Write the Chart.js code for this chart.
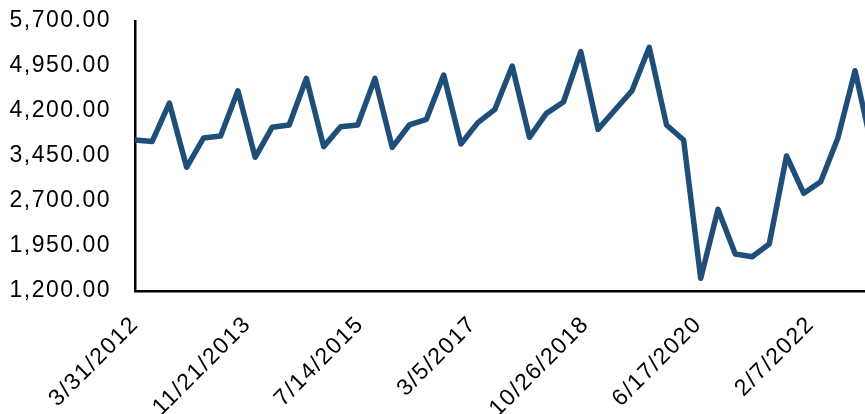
<!DOCTYPE html>
<html>
<head>
<meta charset="utf-8">
<script src="https://cdn.jsdelivr.net/npm/chart.js@4/dist/chart.umd.min.js"></script>
<style>
  html, body { margin: 0; padding: 0; background: #ffffff; }
  canvas { display: block; }
</style>
</head>
<body>
<canvas id="chart" width="865" height="414"></canvas>
<script>
// Quarter-end dates of the series
const quarterEnds = [
  "3/31/2012", "6/30/2012", "9/30/2012", "12/31/2012",
  "3/31/2013", "6/30/2013", "9/30/2013", "12/31/2013",
  "3/31/2014", "6/30/2014", "9/30/2014", "12/31/2014",
  "3/31/2015", "6/30/2015", "9/30/2015", "12/31/2015",
  "3/31/2016", "6/30/2016", "9/30/2016", "12/31/2016",
  "3/31/2017", "6/30/2017", "9/30/2017", "12/31/2017",
  "3/31/2018", "6/30/2018", "9/30/2018", "12/31/2018",
  "3/31/2019", "6/30/2019", "9/30/2019", "12/31/2019",
  "3/31/2020", "6/30/2020", "9/30/2020", "12/31/2020",
  "3/31/2021", "6/30/2021", "9/30/2021", "12/31/2021",
  "3/31/2022", "6/30/2022", "9/30/2022", "12/31/2022"
];

// Quarterly values
const values = [
  3717, 3690, 4333, 3262,
  3750, 3783, 4538, 3428,
  3928, 3967, 4744, 3606,
  3939, 3967, 4744, 3594,
  3967, 4061, 4800, 3650,
  4006, 4228, 4950, 3761,
  4161, 4350, 5189, 3894,
  4217, 4538, 5261, 3967,
  3717, 1411, 2561, 1817,
  1772, 1983, 3450, 2828,
  3022, 3744, 4872, 3570
];

// Date-axis tick labels (600-day steps) and value-axis ticks
const xTickLabels = ["3/31/2012", "11/21/2013", "7/14/2015", "3/5/2017", "10/26/2018", "6/17/2020", "2/7/2022"];
const yTickValues = [1200, 1950, 2700, 3450, 4200, 4950, 5700];

// Visible date range of the horizontal axis
const xAxisStart = "3/31/2012";
const xAxisEnd = "11/22/2022";

function dayNumber(s) {
  const [m, d, y] = s.split("/").map(Number);
  return Date.UTC(y, m - 1, d) / 86400000;
}

const points = quarterEnds.map((q, i) => ({ x: dayNumber(q), y: values[i] }));
const xTickDays = xTickLabels.map(dayNumber);

const FONT = { family: 'Arial, "Liberation Sans", sans-serif', size: 23 };
const LETTER_SPACING = "1.5px";

// Slightly spaced-out lettering for all axis text
const letterSpacingPlugin = {
  id: "letterSpacing",
  beforeUpdate(chart) { chart.ctx.letterSpacing = LETTER_SPACING; },
  beforeLayout(chart) { chart.ctx.letterSpacing = LETTER_SPACING; },
  beforeDraw(chart) { chart.ctx.letterSpacing = LETTER_SPACING; }
};

new Chart(document.getElementById("chart"), {
  type: "line",
  data: {
    datasets: [{
      data: points,
      borderColor: "#1F4E79",
      borderWidth: 5.5,
      borderJoinStyle: "round",
      borderCapStyle: "round",
      pointRadius: 0,
      pointHoverRadius: 0,
      tension: 0,
      fill: false
    }]
  },
  options: {
    responsive: false,
    animation: false,
    events: [],
    layout: { padding: { top: 21, left: 0, right: 0, bottom: 0 } },
    plugins: {
      legend: { display: false },
      tooltip: { enabled: false },
      title: { display: false }
    },
    scales: {
      x: {
        type: "linear",
        min: dayNumber(xAxisStart),
        max: dayNumber(xAxisEnd),
        grid: { display: false, drawTicks: false },
        border: { display: true, color: "#000000", width: 2.5 },
        afterBuildTicks(scale) {
          scale.ticks = xTickDays.map(v => ({ value: v }));
        },
        afterFit(scale) { scale.height = 123; },
        ticks: {
          autoSkip: false,
          maxRotation: 45,
          minRotation: 45,
          padding: 20,
          color: "#000000",
          font: FONT,
          callback: (value, index) => xTickLabels[index]
        }
      },
      y: {
        type: "linear",
        min: yTickValues[0],
        max: yTickValues[yTickValues.length - 1],
        grid: { display: false, drawTicks: false },
        border: { display: true, color: "#000000", width: 2.5 },
        afterBuildTicks(scale) {
          scale.ticks = yTickValues.map(v => ({ value: v }));
        },
        afterFit(scale) {
          scale.width = 135;
          scale.paddingTop = 0;
          scale.paddingBottom = 0;
        },
        ticks: {
          padding: 24,
          color: "#000000",
          font: FONT,
          callback: v => v.toLocaleString("en-US", { minimumFractionDigits: 2, maximumFractionDigits: 2 })
        }
      }
    }
  },
  plugins: [letterSpacingPlugin]
});
</script>
</body>
</html>
